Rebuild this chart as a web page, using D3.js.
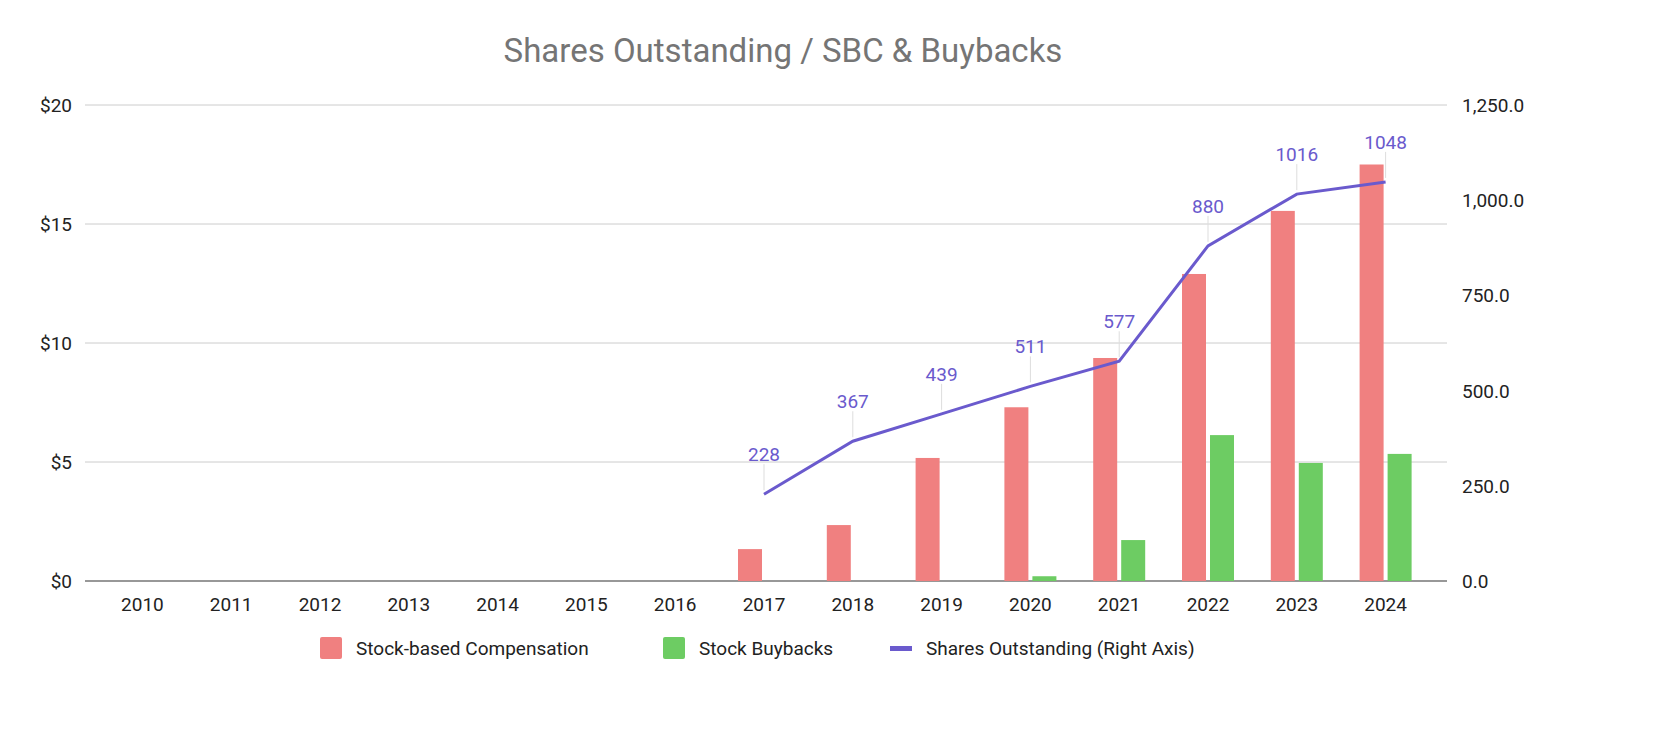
<!DOCTYPE html>
<html><head><meta charset="utf-8">
<script src="https://cdn.jsdelivr.net/npm/d3@7"></script>
<style>body{margin:0;background:#fff;font-family:Roboto,Arial,sans-serif}</style>
</head><body><div id="plot"></div>
<script>
const years = ["2010","2011","2012","2013","2014","2015","2016","2017","2018","2019","2020","2021","2022","2023","2024"];
const sbc = [null,null,null,null,null,null,null,1.34,2.35,5.17,7.3,9.37,12.9,15.55,17.5];
const buybacks = [null,null,null,null,null,null,null,null,null,null,0.2,1.72,6.13,4.96,5.34];
const shares = [null,null,null,null,null,null,null,228,367,439,511,577,880,1016,1048];
const leftTicks = [0,5,10,15,20];
const rightTicks = [0,250,500,750,1000,1250];

const width = 1674, height = 742;
const plotLeft = 98, plotRight = 1430, plotTop = 105, plotBottom = 581;

const svg = d3.select("#plot").append("svg").attr("width", width).attr("height", height);

const x = d3.scaleBand().domain(years).range([plotLeft, plotRight]);
const yL = d3.scaleLinear().domain([0, 20]).range([plotBottom, plotTop]);
const yR = d3.scaleLinear().domain([0, 1250]).range([plotBottom, plotTop]);

// title
svg.append("text").attr("x", 783).attr("y", 62).attr("text-anchor", "middle")
  .style("font-size", "33px").style("fill", "#757575").text("Shares Outstanding / SBC & Buybacks");

// gridlines
svg.selectAll(".grid").data(leftTicks).enter().append("line")
  .attr("x1", 85).attr("x2", 1447)
  .attr("y1", d => yL(d)).attr("y2", d => yL(d))
  .attr("stroke", d => d === 0 ? "#333" : "#ccc").attr("stroke-width", d => d === 0 ? 1.2 : 1);

svg.selectAll(".lt").data(leftTicks).enter().append("text")
  .attr("x", 72).attr("y", d => yL(d) + 7).attr("text-anchor", "end")
  .style("font-size", "19px").style("fill", "#222").text(d => "$" + d);

svg.selectAll(".rt").data(rightTicks).enter().append("text")
  .attr("x", 1462).attr("y", d => yR(d) + 7)
  .style("font-size", "19px").style("fill", "#222").text(d => d3.format(",.1f")(d));

svg.selectAll(".xt").data(years).enter().append("text")
  .attr("x", d => x(d) + x.bandwidth() / 2).attr("y", 611).attr("text-anchor", "middle")
  .style("font-size", "19px").style("fill", "#222").text(d => d);

// bars
const bw = 24;
svg.selectAll(".sbc").data(years.map((y, i) => ({ y, v: sbc[i] })).filter(d => d.v != null))
  .enter().append("rect")
  .attr("x", d => x(d.y) + x.bandwidth() / 2 - bw - 2).attr("width", bw)
  .attr("y", d => yL(d.v)).attr("height", d => yL(0) - yL(d.v)).attr("fill", "#f08080");
svg.selectAll(".bb").data(years.map((y, i) => ({ y, v: buybacks[i] })).filter(d => d.v != null))
  .enter().append("rect")
  .attr("x", d => x(d.y) + x.bandwidth() / 2 + 2).attr("width", bw)
  .attr("y", d => yL(d.v)).attr("height", d => yL(0) - yL(d.v)).attr("fill", "#6dcc63");

// line
const pts = years.map((y, i) => ({ y, v: shares[i] })).filter(d => d.v != null);
const cx = d => x(d.y) + x.bandwidth() / 2;
svg.selectAll(".lead").data(pts).enter().append("line")
  .attr("x1", cx).attr("x2", cx).attr("y1", d => yR(d.v) - 4).attr("y2", d => yR(d.v) - 30)
  .attr("stroke", "#ddd").attr("stroke-width", 1);
svg.append("path").datum(pts)
  .attr("d", d3.line().x(cx).y(d => yR(d.v)))
  .attr("fill", "none").attr("stroke", "#6a5acd").attr("stroke-width", 3);
svg.selectAll(".lbl").data(pts).enter().append("text")
  .attr("x", cx).attr("y", d => yR(d.v) - 33).attr("text-anchor", "middle")
  .style("font-size", "19px").style("fill", "#6a5acd").text(d => d.v);

// legend
const legend = [
  { label: "Stock-based Compensation", color: "#f08080", type: "rect", x: 320 },
  { label: "Stock Buybacks", color: "#6dcc63", type: "rect", x: 663 },
  { label: "Shares Outstanding (Right Axis)", color: "#6a5acd", type: "line", x: 890 }
];
const lg = svg.selectAll(".lg").data(legend).enter().append("g")
  .attr("transform", d => `translate(${d.x},648)`);
lg.filter(d => d.type === "rect").append("rect").attr("x", 0).attr("y", -11).attr("width", 22).attr("height", 22)
  .attr("rx", 2).attr("fill", d => d.color);
lg.filter(d => d.type === "line").append("rect").attr("x", 0).attr("y", -2).attr("width", 22).attr("height", 5)
  .attr("fill", d => d.color);
lg.append("text").attr("x", 36).attr("y", 7).style("font-size", "19px").style("fill", "#222").text(d => d.label);
</script></body></html>
